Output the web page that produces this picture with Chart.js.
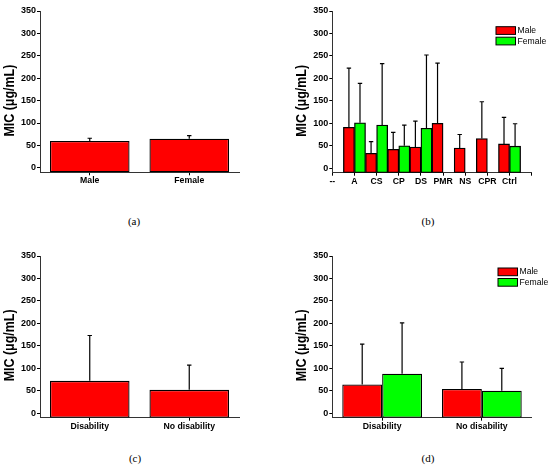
<!DOCTYPE html>
<html>
<head>
<meta charset="utf-8">
<script src="https://cdn.jsdelivr.net/npm/chart.js@4.4.0/dist/chart.umd.min.js"></script>
<style>
html, body { margin: 0; padding: 0; background: #fff; }
#fig { position: relative; width: 550px; height: 474px; overflow: hidden; }
canvas { position: absolute; }
.cap { position: absolute; width: 40px; text-align: center; font: 11px "Liberation Serif", serif; line-height: 12px; color: #000; }
</style>
</head>
<body>
<div id="fig">
  <canvas id="chartA" width="275" height="205" style="left:0;top:0"></canvas>
  <canvas id="chartB" width="275" height="205" style="left:275px;top:0"></canvas>
  <canvas id="chartC" width="275" height="205" style="left:0;top:237px"></canvas>
  <canvas id="chartD" width="275" height="205" style="left:275px;top:237px"></canvas>
  <div class="cap" style="left:114px;top:215px">(a)</div>
  <div class="cap" style="left:408px;top:215px">(b)</div>
  <div class="cap" style="left:115px;top:452px">(c)</div>
  <div class="cap" style="left:408px;top:452px">(d)</div>
</div>
<script>
// axis range shared by all four panels
const Y_MIN = -10;
const Y_MAX = 350;
const Y_TITLE = 'MIC (μg/mL)';
const seriesNames = ['Male', 'Female'];

// (a) by sex
const sexLabels = ['Male', 'Female'];
const sexMeans = [60, 65];
const sexSD = [6, 7];

// (b) by group and sex
const groupLabels = ['--', 'A', 'CS', 'CP', 'DS', 'PMR', 'NS', 'CPR', 'Ctrl', ''];
const groupMale = [null, 91, 33, 42, 47, 100, 45, 66, 54, null];
const groupMaleSD = [null, 132, 26, 38, 58, 134, 30, 82, 59, null];
const groupFemale = [null, 101, 96, 50, 89, null, null, null, 49, null];
const groupFemaleSD = [null, 88, 137, 46, 163, null, null, null, 50, null];

// (c) by disability
const disLabels = ['Disability', 'No disability'];
const disMeans = [72, 52];
const disSD = [101, 55];

// (d) by disability and sex
const disMale = [64, 54];
const disMaleSD = [90, 60];
const disFemale = [88, 50];
const disFemaleSD = [113, 50];

const RED = '#ff0000';
const GREEN = '#00ff00';

Chart.defaults.font.family = '"Liberation Sans", Arial, sans-serif';
Chart.defaults.color = '#000';

// upper whisker with a cap, from the top of each bar
const errorBars = {
  id: 'errorBars',
  afterDatasetsDraw(chart) {
    const ctx = chart.ctx;
    const y = chart.scales.y;
    chart.data.datasets.forEach((ds, i) => {
      chart.getDatasetMeta(i).data.forEach((bar, j) => {
        const v = ds.data[j], e = ds.sd[j];
        if (v == null || e == null) return;
        const top = y.getPixelForValue(v + e);
        ctx.save();
        ctx.strokeStyle = '#000';
        ctx.lineWidth = 1.2;
        ctx.beginPath();
        ctx.moveTo(bar.x, bar.y);
        ctx.lineTo(bar.x, top);
        ctx.moveTo(bar.x - 2.2, top);
        ctx.lineTo(bar.x + 2.2, top);
        ctx.stroke();
        ctx.restore();
      });
    });
  }
};

// rotated y title, squeezed like the original figure
const yTitle = {
  id: 'yTitle',
  afterDraw(chart, args, opts) {
    const { ctx, chartArea } = chart;
    ctx.save();
    ctx.translate(opts.x, (chartArea.top + chartArea.bottom) / 2 + opts.shift);
    ctx.rotate(-Math.PI / 2);
    ctx.scale(0.83, 1);
    ctx.font = 'bold 15px "Liberation Sans", Arial, sans-serif';
    ctx.fillStyle = '#000';
    ctx.textAlign = 'center';
    ctx.textBaseline = 'middle';
    ctx.fillText(Y_TITLE, 0, 0);
    ctx.restore();
  }
};

const boxLegend = {
  id: 'boxLegend',
  afterDraw(chart, args, opts) {
    if (!opts.show) return;
    const ctx = chart.ctx;
    ctx.save();
    chart.data.datasets.forEach((ds, i) => {
      const y = opts.y + i * 10.5;
      ctx.fillStyle = ds.backgroundColor;
      ctx.fillRect(opts.x, y, 19.5, 7.7);
      ctx.strokeStyle = '#000';
      ctx.lineWidth = 1;
      ctx.strokeRect(opts.x, y, 19.5, 7.7);
      ctx.fillStyle = '#000';
      ctx.font = '8.6px "Liberation Sans", Arial, sans-serif';
      ctx.textBaseline = 'middle';
      ctx.fillText(ds.label, opts.x + 21.5, y + 4);
    });
    ctx.restore();
  }
};

function series(label, data, sd, color) {
  return {
    label: label,
    data: data,
    sd: sd,
    base: Y_MIN,
    backgroundColor: color,
    borderColor: '#000',
    borderWidth: 1.3,
    borderSkipped: false,
    barPercentage: 1
  };
}

function panel(id, labels, datasets, lay) {
  datasets.forEach(d => { d.categoryPercentage = lay.cat; });
  return new Chart(document.getElementById(id), {
    type: 'bar',
    data: { labels: labels, datasets: datasets },
    options: {
      responsive: false,
      animation: false,
      layout: { padding: { left: 0, top: lay.top, right: lay.right, bottom: 0 } },
      scales: {
        x: {
          offset: lay.offset,
          grid: { drawOnChartArea: false, offset: false, tickLength: 3, color: '#000' },
          border: { color: '#333', width: 1 },
          ticks: { autoSkip: false, maxRotation: 0, padding: 0.5, font: { size: 8.7, weight: 'bold' } },
          afterFit: s => { s.height = lay.xh; }
        },
        y: {
          min: Y_MIN,
          max: Y_MAX,
          grid: {
            drawOnChartArea: false,
            tickLength: 3,
            color: '#000',
            tickWidth: c => (c.tick && c.tick.value % 50 !== 0) ? 0.6 : 1
          },
          border: { color: '#333', width: 1 },
          ticks: {
            stepSize: 25,
            includeBounds: false,
            padding: 1,
            font: { size: 9, weight: 'bold' },
            callback: v => (v % 50 === 0 ? v : '')
          },
          afterFit: s => { s.width = lay.yw; }
        }
      },
      plugins: {
        legend: { display: false },
        tooltip: { enabled: false },
        yTitle: { x: lay.titleX, shift: lay.shift },
        boxLegend: { show: datasets.length > 1, x: lay.legX, y: lay.legY }
      }
    },
    plugins: [errorBars, yTitle, boxLegend]
  });
}

panel('chartA', sexLabels,
  [series('MIC', sexMeans, sexSD, RED)],
  { top: 11, right: 36, yw: 40, xh: 32.7, cat: 0.8, offset: true, titleX: 9.5, shift: 9 });

panel('chartB', groupLabels,
  [series(seriesNames[0], groupMale, groupMaleSD, RED),
   series(seriesNames[1], groupFemale, groupFemaleSD, GREEN)],
  { top: 11, right: 18.3, yw: 57.3, xh: 32.3, cat: 1, offset: false, titleX: 26.5, shift: 9, legX: 221, legY: 26.7 });

panel('chartC', disLabels,
  [series('MIC', disMeans, disSD, RED)],
  { top: 19, right: 36, yw: 40, xh: 24.3, cat: 0.8, offset: true, titleX: 9.5, shift: 8.5 });

panel('chartD', disLabels,
  [series(seriesNames[0], disMale, disMaleSD, RED),
   series(seriesNames[1], disFemale, disFemaleSD, GREEN)],
  { top: 19, right: 18.3, yw: 57.3, xh: 24.3, cat: 0.8, offset: true, titleX: 26.5, shift: 8.5, legX: 223, legY: 31 });
</script>
</body>
</html>
